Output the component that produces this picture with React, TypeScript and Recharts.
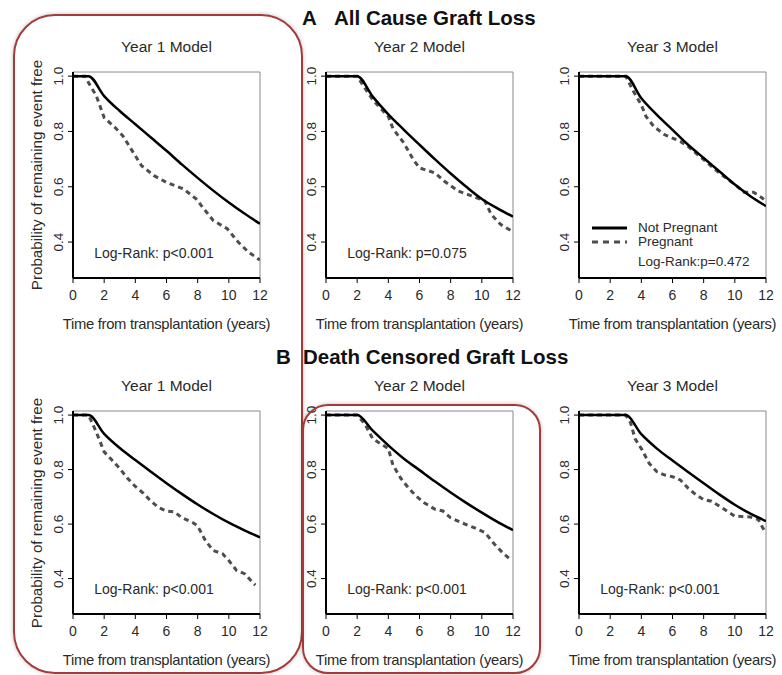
import { LineChart, Line, XAxis, YAxis, ReferenceArea } from "recharts"

// [years, probability] pairs
const acY1NotPregnant = [[0, 1], [1, 1], [2, 0.928], [3, 0.874], [4, 0.826], [5, 0.778], [6, 0.73], [7, 0.68], [8, 0.632], [9, 0.586], [10, 0.543], [11, 0.503], [12, 0.466]]
const acY1Pregnant = [[0, 1], [0.8, 1], [1, 0.976], [1.5, 0.928], [2, 0.85], [2.7, 0.814], [3.2, 0.784], [4, 0.712], [4.4, 0.676], [5.2, 0.64], [6, 0.616], [7.1, 0.592], [7.9, 0.556], [8.4, 0.52], [9, 0.478], [9.9, 0.448], [10.6, 0.4], [11.25, 0.364], [12, 0.335]]
const acY2NotPregnant = [[0, 1], [2, 1], [3, 0.926], [4, 0.862], [5, 0.806], [6, 0.752], [7, 0.699], [8, 0.648], [9, 0.6], [10, 0.556], [11, 0.522], [12, 0.492]]
const acY2Pregnant = [[0, 1], [2, 1], [2.5, 0.956], [3, 0.914], [3.5, 0.884], [4, 0.854], [4.3, 0.81], [5, 0.758], [5.6, 0.698], [6, 0.668], [7, 0.65], [7.6, 0.62], [8.5, 0.584], [9.4, 0.566], [10.2, 0.548], [10.6, 0.5], [11.2, 0.464], [12, 0.437]]
const acY3NotPregnant = [[0, 1], [3, 1], [4, 0.92], [5, 0.86], [6, 0.806], [7, 0.752], [8, 0.704], [9, 0.656], [10, 0.608], [11, 0.566], [12, 0.53]]
const acY3Pregnant = [[0, 1], [3, 1], [3.5, 0.944], [4, 0.896], [4.3, 0.854], [4.8, 0.818], [5.5, 0.788], [6.5, 0.764], [7, 0.746], [7.5, 0.722], [8, 0.698], [9, 0.65], [10, 0.608], [10.6, 0.58], [11.2, 0.58], [11.6, 0.566], [12, 0.548]]

const dcY1NotPregnant = [[0, 1], [1, 1], [2, 0.931], [3, 0.879], [4, 0.835], [5, 0.792], [6, 0.75], [7, 0.71], [8, 0.672], [9, 0.637], [10, 0.605], [11, 0.577], [12, 0.551]]
const dcY1Pregnant = [[0, 1], [1, 1], [1.5, 0.937], [2, 0.865], [2.5, 0.835], [3, 0.804], [3.5, 0.768], [4, 0.738], [4.5, 0.714], [5, 0.684], [5.5, 0.66], [6, 0.648], [6.5, 0.645], [7, 0.623], [7.7, 0.605], [8, 0.593], [8.5, 0.539], [9, 0.503], [9.6, 0.491], [10, 0.466], [10.5, 0.43], [11, 0.418], [11.7, 0.376]]
const dcY2NotPregnant = [[0, 1], [2, 1], [3, 0.943], [4, 0.889], [5, 0.84], [6, 0.798], [7, 0.756], [8, 0.716], [9, 0.678], [10, 0.642], [11, 0.608], [12, 0.578]]
const dcY2Pregnant = [[0, 1], [2, 1], [2.5, 0.967], [3, 0.913], [3.5, 0.895], [4, 0.877], [4.3, 0.816], [4.8, 0.768], [5.3, 0.732], [5.8, 0.702], [6.3, 0.678], [7, 0.654], [7.5, 0.648], [8, 0.623], [8.7, 0.605], [9.5, 0.587], [10.2, 0.569], [10.8, 0.527], [11.3, 0.497], [11.8, 0.472]]
const dcY3NotPregnant = [[0, 1], [3, 1], [4, 0.93], [5, 0.877], [6, 0.833], [7, 0.791], [8, 0.75], [9, 0.709], [10, 0.671], [11, 0.638], [12, 0.611]]
const dcY3Pregnant = [[0, 1], [3, 1], [3.3, 0.973], [3.6, 0.913], [4, 0.877], [4.5, 0.823], [5, 0.792], [5.5, 0.78], [6, 0.774], [6.5, 0.762], [7, 0.732], [7.5, 0.708], [8, 0.69], [8.5, 0.684], [9, 0.666], [9.5, 0.648], [10, 0.629], [11, 0.626], [11.5, 0.617], [11.9, 0.575]]

const timeTicks = [0, 2, 4, 6, 8, 10, 12]
const probTicks = [0.4, 0.6, 0.8, 1.0]
const modelTitles = ["Year 1 Model", "Year 2 Model", "Year 3 Model"]
const logRankA = ["Log-Rank: p<0.001", "Log-Rank: p=0.075", "Log-Rank:p=0.472"]
const logRankB = ["Log-Rank: p<0.001", "Log-Rank: p<0.001", "Log-Rank: p<0.001"]

const FONT = "'Liberation Sans', Arial, sans-serif"
const TEXT = "#2a2a2a"
const Y_MIN = 0.27
const Y_MAX = 1.015
const PLOT_W = 187
const colLefts = [73, 326, 579]

const toPoints = (arr: number[][]) => arr.map(([t, p]) => ({ t, p }))

function YTick(props: any) {
  const { x, y, payload } = props
  const bx = x - 3
  return (
    <text x={bx} y={y} transform={`rotate(-90 ${bx} ${y})`} textAnchor="middle" fontSize={13.5} fill={TEXT} fontFamily={FONT}>
      {payload.value.toFixed(1)}
    </text>
  )
}

type PanelProps = {
  left: number
  top: number
  plotH: number
  title: string
  notPregnant: number[][]
  pregnant: number[][]
  logRank?: string
  yLabel?: boolean
}

function Panel({ left, top, plotH, title, notPregnant, pregnant, logRank, yLabel }: PanelProps) {
  const bottom = top + plotH
  return (
    <>
      <div style={{ position: "absolute", left, top: top - 35, width: PLOT_W, textAlign: "center", fontSize: 15.5, lineHeight: "20px", color: TEXT, fontFamily: FONT }}>
        {title}
      </div>
      <div style={{ position: "absolute", left: left - 50, top: top - 10 }}>
        <LineChart width={PLOT_W + 60} height={plotH + 80} margin={{ top: 10, right: 10, left: 20, bottom: 40 }}>
          <XAxis
            type="number"
            dataKey="t"
            domain={[0, 12]}
            ticks={timeTicks}
            allowDataOverflow
            height={30}
            tickSize={5}
            tickMargin={7}
            axisLine={{ stroke: "#000", strokeWidth: 2 }}
            tickLine={{ stroke: "#000" }}
            tick={{ fontSize: 14, fill: TEXT, fontFamily: FONT }}
          />
          <YAxis
            type="number"
            dataKey="p"
            domain={[Y_MIN, Y_MAX]}
            ticks={probTicks}
            allowDataOverflow
            width={30}
            tickSize={5}
            axisLine={{ stroke: "#000", strokeWidth: 2 }}
            tickLine={{ stroke: "#000" }}
            tick={<YTick />}
          />
          <ReferenceArea x1={0} x2={12} y1={Y_MIN} y2={Y_MAX} fill="none" stroke="#8a8a8a" strokeWidth={1} />
          <Line data={toPoints(pregnant)} dataKey="p" type="linear" stroke="#4d4d4d" strokeWidth={3} strokeDasharray="5 4" dot={false} isAnimationActive={false} />
          <Line data={toPoints(notPregnant)} dataKey="p" type="monotone" stroke="#000" strokeWidth={2.5} dot={false} isAnimationActive={false} />
        </LineChart>
      </div>
      {logRank && (
        <div style={{ position: "absolute", left: left - 4, top: bottom - 34, width: 170, textAlign: "center", fontSize: 14, lineHeight: "18px", color: TEXT, fontFamily: FONT }}>
          {logRank}
        </div>
      )}
      <div style={{ position: "absolute", left: left - 30, top: bottom + 36, width: PLOT_W + 60, textAlign: "center", fontSize: 14.8, lineHeight: "20px", color: TEXT, fontFamily: FONT, letterSpacing: -0.3, whiteSpace: "nowrap" }}>
        Time from transplantation (years)
      </div>
      {yLabel && (
        <div style={{ position: "absolute", left: 37 - 150, top: top + plotH / 2 - 10, width: 300, textAlign: "center", fontSize: 15.2, lineHeight: "20px", color: TEXT, fontFamily: FONT, transform: "rotate(-90deg)" }}>
          Probability of remaining event free
        </div>
      )}
    </>
  )
}

function Legend() {
  const row = { position: "absolute" as const, left: 638, fontSize: 13.5, lineHeight: "14px", color: TEXT, fontFamily: FONT, whiteSpace: "nowrap" as const }
  return (
    <>
      <svg style={{ position: "absolute", left: 590, top: 220 }} width={40} height={30}>
        <line x1={2} y1={8} x2={37} y2={8} stroke="#000" strokeWidth={3} />
        <line x1={2} y1={22} x2={37} y2={22} stroke="#4d4d4d" strokeWidth={3} strokeDasharray="6 5" />
      </svg>
      <div style={{ ...row, top: 221 }}>Not Pregnant</div>
      <div style={{ ...row, top: 235 }}>Pregnant</div>
      <div style={{ ...row, top: 255 }}>Log-Rank:p=0.472</div>
    </>
  )
}

const heading = { position: "absolute" as const, fontSize: 20.5, fontWeight: "bold" as const, lineHeight: "24px", color: "#111", fontFamily: FONT, whiteSpace: "nowrap" as const }
const redBox = { position: "absolute" as const, border: "2px solid #a33b3b", boxShadow: "0 0 4px rgba(0,0,0,0.25)", pointerEvents: "none" as const }

export default function App() {
  const rowA = [acY1NotPregnant, acY2NotPregnant, acY3NotPregnant]
  const rowAP = [acY1Pregnant, acY2Pregnant, acY3Pregnant]
  const rowB = [dcY1NotPregnant, dcY2NotPregnant, dcY3NotPregnant]
  const rowBP = [dcY1Pregnant, dcY2Pregnant, dcY3Pregnant]
  return (
    <div style={{ position: "absolute", left: 0, top: 0, width: 782, height: 675, background: "#fff", overflow: "hidden" }}>
      <div style={{ ...heading, left: 302, top: 6 }}>A</div>
      <div style={{ ...heading, left: 334, top: 6 }}>All Cause Graft Loss</div>
      <div style={{ ...heading, left: 276, top: 345 }}>B</div>
      <div style={{ ...heading, left: 303, top: 345 }}>Death Censored Graft Loss</div>
      {colLefts.map((l, i) => (
        <Panel key={"a" + i} left={l} top={72} plotH={206} title={modelTitles[i]} notPregnant={rowA[i]} pregnant={rowAP[i]} logRank={i < 2 ? logRankA[i] : undefined} yLabel={i === 0} />
      ))}
      {colLefts.map((l, i) => (
        <Panel key={"b" + i} left={l} top={411} plotH={203} title={modelTitles[i]} notPregnant={rowB[i]} pregnant={rowBP[i]} logRank={logRankB[i]} yLabel={i === 0} />
      ))}
      <Legend />
      <div style={{ ...redBox, left: 13, top: 14, width: 286, height: 656, borderRadius: 42 }} />
      <div style={{ ...redBox, left: 302, top: 404, width: 235, height: 266, borderRadius: 26 }} />
    </div>
  )
}
